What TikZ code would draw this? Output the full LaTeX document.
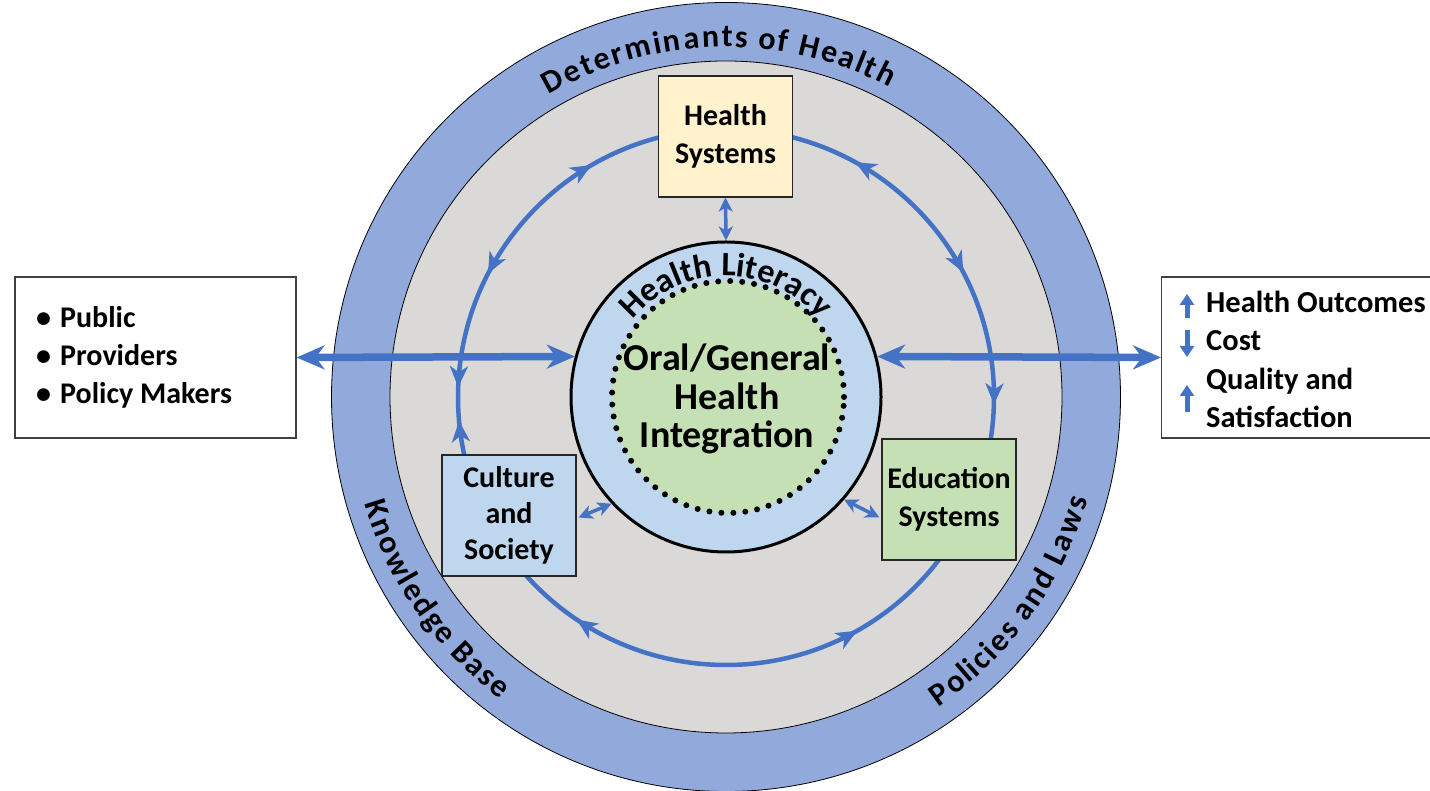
\documentclass[tikz,border=0pt]{standalone}
\usepackage{fontspec}
\setmainfont{Carlito}
\usetikzlibrary{arrows.meta,decorations.text,decorations.markings}
\definecolor{ringblue}{RGB}{146,169,220}
\definecolor{ringgray}{RGB}{218,217,216}
\definecolor{hlblue}{RGB}{190,215,238}
\definecolor{igreen}{RGB}{197,224,180}
\definecolor{hsyellow}{RGB}{255,242,204}
\definecolor{arrowblue}{RGB}{68,114,196}
\definecolor{boxline}{RGB}{64,64,64}
\tikzset{
  ringtip/.tip={Stealth[length=21pt,width=18pt,inset=6pt]},
  bigtip/.tip={Stealth[length=28pt,width=24pt,inset=9pt]},
  linktip/.tip={Stealth[length=14pt,width=14pt,inset=4pt]},
  icontip/.tip={Triangle[length=11pt,width=14pt]},
}
\begin{document}
\begin{tikzpicture}[x=1pt,y=1pt,
  txt/.style={font=\fontsize{30}{38}\selectfont\bfseries},
  sysbox/.style={draw=black!85, line width=1.2pt, minimum width=134pt, minimum height=121pt, inner sep=0pt, align=center, txt},
  sidebox/.style={draw=boxline, line width=1.2pt, fill=white, inner sep=0pt, minimum height=161pt},
  bigarrow/.style={draw=arrowblue, line width=7.5pt, bigtip-bigtip},
  linkarrow/.style={draw=arrowblue, line width=3.5pt, linktip-linktip},
  iconarrow/.style={draw=arrowblue, line width=5pt, -icontip},
  ringtext/.style={decorate, decoration={text effects along path, text={#1}, text effects/.cd, text along path, fit text to path, characters={font=\fontsize{32}{32}\selectfont\bfseries}}},
]
\useasboundingbox (0,0) rectangle (1430,791);
\coordinate (O) at (726,394);
% rings
\filldraw[fill=ringblue, draw=black, line width=0.8pt] (O) circle (394.5);
\filldraw[fill=ringgray, draw=black, line width=0.8pt] (O) circle (336);
% ring texts
\path[ringtext={Determinants of Health}] (O) ++(120.4:350) arc[start angle=120.4, end angle=62.2, radius=350];
\path[ringtext={Knowledge Base}] (O) ++(196.4:377) arc[start angle=196.4, end angle=233.2, radius=377];
\path[ringtext={Policies and Laws}] (O) ++(-55.6:376) arc[start angle=-55.6, end angle=-15.8, radius=376];
% cycle ring
\draw[arrowblue, line width=4.5pt, postaction={decorate}, decoration={markings,
  mark=at position 0.0836 with {\arrowreversed{ringtip}},
  mark=at position 0.1739 with {\arrow{ringtip}},
  mark=at position 0.2442 with {\arrow{ringtip}},
  mark=at position 0.2642 with {\arrowreversed{ringtip}},
  mark=at position 0.4058 with {\arrowreversed{ringtip}},
  mark=at position 0.5814 with {\arrow{ringtip}},
  mark=at position 0.7456 with {\arrowreversed{ringtip}},
  mark=at position 0.8269 with {\arrowreversed{ringtip}},
  mark=at position 0.9200 with {\arrow{ringtip}}}]
  (O) ++(90:268) arc[start angle=90, end angle=450, radius=268];
% central circles
\node[circle, draw=black, line width=3pt, fill=hlblue, minimum size=310pt, inner sep=0pt] (HL) at (O) {};
\node[circle, fill=igreen, minimum size=232pt, inner sep=0pt] (IG) at (728,394) {};
\draw[black, line width=6pt, line cap=round, dash pattern=on 0pt off 12pt] (IG.center) circle (116);
\path[decorate, decoration={text along path, text align=center, text={|\fontsize{34}{34}\selectfont\bfseries|Health Literacy}}] (HL.center) ++(170:121) arc[start angle=170, end angle=10, radius=121];
\node[font=\fontsize{38}{38.5}\selectfont\bfseries, align=center] (OG) at (727,392) {Oral/General\\Health\\Integration};
% system boxes
\node[sysbox, fill=hsyellow] (HS) at (725.5,654.5) {Health\\Systems};
\node[sysbox, fill=hlblue, font=\fontsize{30}{36}\selectfont\bfseries] (CS) at (509,275.5) {Culture\\and\\Society};
\node[sysbox, fill=igreen] (ES) at (949,291.5) {Education\\Systems};
% side boxes
\node[sidebox, minimum width=281pt] (LB) at (155.5,433.5) {};
\node[txt, align=left, anchor=west, inner sep=0pt] (LT) at (36,434) {\makebox[24pt][l]{\textbullet}Public\\\makebox[24pt][l]{\textbullet}Providers\\\makebox[24pt][l]{\textbullet}Policy Makers};
\node[sidebox, minimum width=290pt, anchor=west] (RB) at (1161,433.5) {};
\node[font=\fontsize{30.5}{38.5}\selectfont\bfseries, align=left, anchor=west, inner sep=0pt] (RT) at (1206,431.5) {Health Outcomes\\Cost\\Quality and\\Satisfaction};
\draw[iconarrow] (1187,473) -- (1187,497);
\draw[iconarrow] (1187,461) -- (1187,434);
\draw[iconarrow] (1187,379) -- (1187,406);
% connectors
\draw[bigarrow] (LB.east) -- (HL.165);
\draw[bigarrow] (HL.15) -- (RB.west);
\draw[linkarrow] (HS.south) -- (HL.north);
\draw[linkarrow] ([xshift=2pt,yshift=-2pt]CS.east) -- (HL.223);
\draw[linkarrow] ([xshift=-2pt,yshift=-18pt]ES.west) -- (HL.-41);
\end{tikzpicture}
\end{document}
